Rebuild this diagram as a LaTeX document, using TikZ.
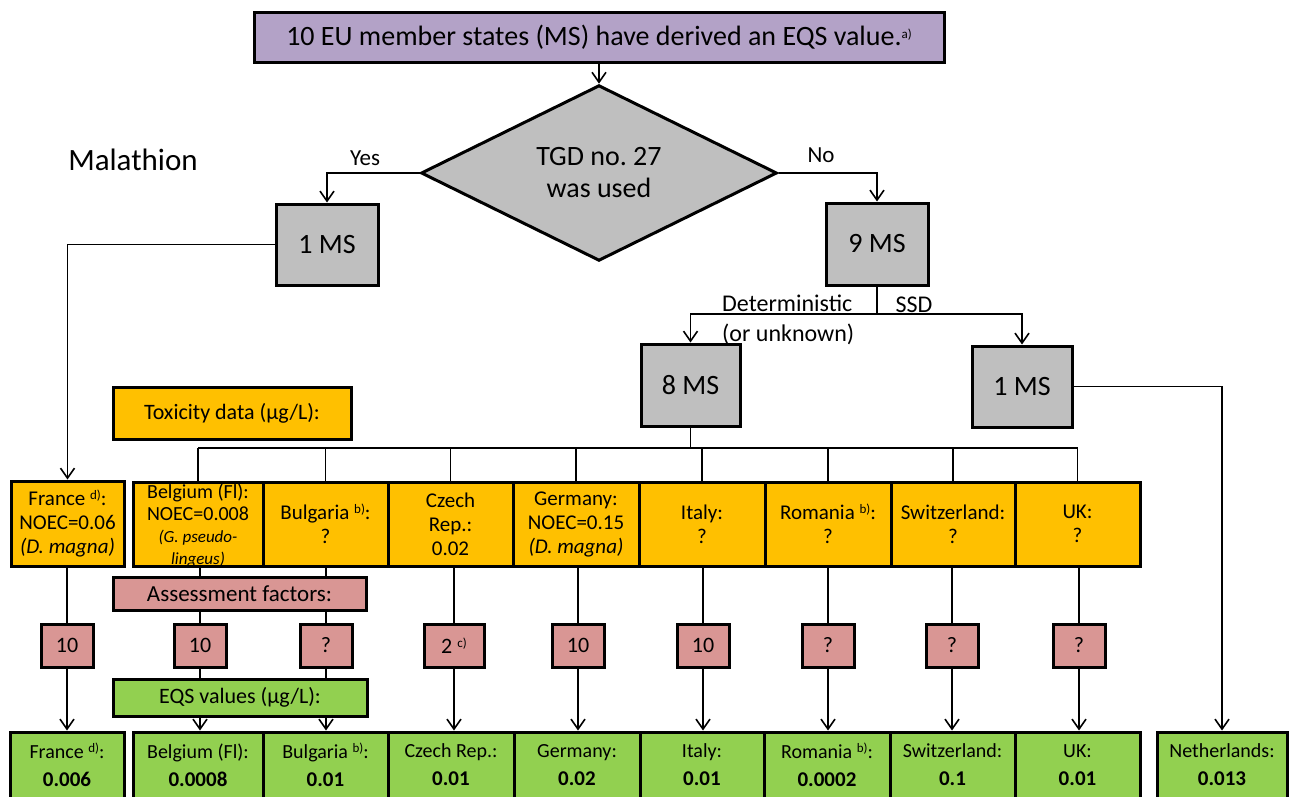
\documentclass[tikz,border=0pt]{standalone}
\usepackage{fontspec}
\setmainfont{Carlito}
\usetikzlibrary{shapes.geometric,arrows.meta}
\pgfdeclarelayer{bg}
\pgfsetlayers{bg,main}

\definecolor{lav}{HTML}{B3A2C7}
\definecolor{grayb}{HTML}{BFBFBF}
\definecolor{orng}{HTML}{FFC000}
\definecolor{pinkb}{HTML}{D99694}
\definecolor{grn}{HTML}{92D050}

% small raised footnote marks
\newcommand\fnm[1]{\raisebox{6.5pt}{\fontsize{13}{13}\selectfont #1}}

\begin{document}
\frenchspacing
\begin{tikzpicture}[x=1pt,y=-1pt,
  box/.style={draw=black, line width=3pt, inner sep=0pt, align=center, text=black},
  msbox/.style={box, fill=grayb, font=\fontsize{28}{32}\selectfont},
  obox/.style={box, fill=orng, minimum height=84, font=\fontsize{21}{24}\selectfont},
  afbox/.style={box, fill=pinkb, minimum width=52, minimum height=43, font=\fontsize{22}{24}\selectfont},
  gbox/.style={box, fill=grn, minimum height=66, font=\fontsize{20}{28}\selectfont},
  lbl/.style={inner sep=0pt, text=black},
  conn/.style={line width=1.6pt, draw=black},
  arr/.style={conn, -{Straight Barb[length=10pt,width=14pt]}}
]
\useasboundingbox (0,0) rectangle (1292,796);
\clip (0,0) rectangle (1292,796);

% header and decision
\node[box, fill=lav, minimum width=690, minimum height=50, font=\fontsize{28}{30}\selectfont] (top) at (599,37)
  {10 EU member states (MS) have derived an EQS value.\fnm{a)}};
\node[box, diamond, fill=grayb, minimum width=356, minimum height=168, font=\fontsize{28}{32}\selectfont] (tgd) at (599,173)
  {TGD no. 27\\was used};
\node[lbl, font=\fontsize{31}{36}\selectfont] (title) at (133,160) {Malathion};

% MS counts
\node[msbox, minimum width=102, minimum height=81] (msY) at (327,244.5) {1 MS};
\node[msbox, minimum width=102, minimum height=82] (msN) at (877,244) {9 MS};
\node[msbox, minimum width=99, minimum height=82] (ms8) at (690.5,385) {8 MS};
\node[msbox, minimum width=100, minimum height=81] (ms1) at (1022,386.5) {1 MS};

% branch labels
\node[lbl, font=\fontsize{23}{26}\selectfont] (lyes) at (365,158) {Yes};
\node[lbl, font=\fontsize{23}{26}\selectfont] (lno) at (821,155) {No};
\node[lbl, font=\fontsize{24}{30}\selectfont, align=left, anchor=west] (ldet) at (722,320) {Deterministic\\(or unknown)};
\node[lbl, font=\fontsize{24}{26}\selectfont] (lssd) at (914,305) {SSD};

% row headings
\node[box, fill=orng, minimum width=238, minimum height=52, font=\fontsize{22}{24}\selectfont] (tox) at (232,413) {Toxicity data (µg/L):};
\node[box, fill=pinkb, minimum width=253, minimum height=33, font=\fontsize{23}{24}\selectfont] (afl) at (239.5,593.5) {Assessment factors:};
\node[box, fill=grn, minimum width=254, minimum height=37, font=\fontsize{22}{24}\selectfont] (eqsl) at (240,697.5) {EQS values (µg/L):};

% toxicity data
\node[obox, minimum width=113, minimum height=85] (orFR) at (67.5,523.5) {France \fnm{d)}:\\NOEC=0.06\\\textit{(D. magna)}};
\node[obox, minimum width=130] (orBE) at (198,524) {};
\begin{scope}
  \clip ([shift={(1.5,-1.5)}]orBE.south west) rectangle ([shift={(-1.5,1.5)}]orBE.north east);
  \node[lbl, align=center, font=\fontsize{20}{22}\selectfont] (txBE) at (198,526)
    {Belgium (Fl):\\NOEC=0.008\\{\fontsize{17}{20}\selectfont\itshape (G. pseudo-}\\{\fontsize{17}{20}\selectfont\itshape lingeus)}};
\end{scope}
\node[obox, minimum width=125] (orBG) at (325.5,524) {Bulgaria \fnm{b)}:\\?};
\node[obox, minimum width=125] (orCZ) at (450.5,524) {Czech\\Rep.:\\0.02};
\node[obox, minimum width=126] (orDE) at (576,524) {Germany:\\NOEC=0.15\\\textit{(D. magna)}};
\node[obox, minimum width=126] (orIT) at (702,524) {Italy:\\?};
\node[obox, minimum width=126] (orRO) at (828,524) {Romania \fnm{b)}:\\?};
\node[obox, minimum width=124] (orCH) at (953,524) {Switzerland:\\?};
\node[obox, minimum width=125] (orUK) at (1077.5,524) {UK:\\?};

% assessment factors
\node[afbox] (afFR) at (67,645.5) {10};
\node[afbox] (afBE) at (200,645.5) {10};
\node[afbox] (afBG) at (326,645.5) {?};
\node[afbox, minimum width=60] (afCZ) at (454,645.5) {2 \fnm{c)}};
\node[afbox] (afDE) at (578,645.5) {10};
\node[afbox] (afIT) at (703,645.5) {10};
\node[afbox] (afRO) at (828,645.5) {?};
\node[afbox] (afCH) at (952,645.5) {?};
\node[afbox] (afUK) at (1079,645.5) {?};

% EQS values
\node[gbox, minimum width=114] (gFR) at (67,765) {France \fnm{d)}:\\\textbf{\fontsize{21}{28}\selectfont 0.006}};
\node[gbox, minimum width=130] (gBE) at (198,765) {Belgium (Fl):\\\textbf{\fontsize{21}{28}\selectfont 0.0008}};
\node[gbox, minimum width=125] (gBG) at (325.5,765) {Bulgaria \fnm{b)}:\\\textbf{\fontsize{21}{28}\selectfont 0.01}};
\node[gbox, minimum width=126] (gCZ) at (451,765) {Czech Rep.:\\\textbf{\fontsize{21}{28}\selectfont 0.01}};
\node[gbox, minimum width=126] (gDE) at (577,765) {Germany:\\\textbf{\fontsize{21}{28}\selectfont 0.02}};
\node[gbox, minimum width=124] (gIT) at (702,765) {Italy:\\\textbf{\fontsize{21}{28}\selectfont 0.01}};
\node[gbox, minimum width=126] (gRO) at (827,765) {Romania \fnm{b)}:\\\textbf{\fontsize{21}{28}\selectfont 0.0002}};
\node[gbox, minimum width=125] (gCH) at (952.5,765) {Switzerland:\\\textbf{\fontsize{21}{28}\selectfont 0.1}};
\node[gbox, minimum width=125] (gUK) at (1077.5,765) {UK:\\\textbf{\fontsize{21}{28}\selectfont 0.01}};
\node[gbox, minimum width=130] (gNL) at (1222,765) {Netherlands:\\\textbf{\fontsize{21}{28}\selectfont 0.013}};

\coordinate (fork) at (877,314);
\coordinate (busL) at (198,448);
\coordinate (busR) at (1077.5,448);

\begin{pgfonlayer}{bg}
  \draw[arr] (top) -- (tgd);
  \draw[arr] (tgd.west) -| (msY.north);
  \draw[arr] (tgd.east) -| (msN.north);
  \draw[conn] (msN.south) -- (fork);
  \draw[arr] (fork) -| (ms8.north);
  \draw[arr] (fork) -| (ms1.north);
  \draw[arr] (msY.west) -| (orFR.north);
  \draw[arr] (ms1.east) -| (gNL.north);
  \draw[conn] (ms8.south) -- (ms8.south |- busL);
  \draw[conn] (busL) -- (busR);
  \foreach \c in {BE,BG,CZ,DE,IT,RO,CH,UK}
    \draw[conn] (or\c.north) -- (or\c.north |- busL);
  \foreach \c in {FR,BE,BG,CZ,DE,IT,RO,CH,UK} {
    \draw[conn] (af\c.north |- or\c.south) -- (af\c.north);
    \draw[arr] (af\c.south) -- (af\c.south |- g\c.north);
  }
\end{pgfonlayer}
\end{tikzpicture}
\end{document}
